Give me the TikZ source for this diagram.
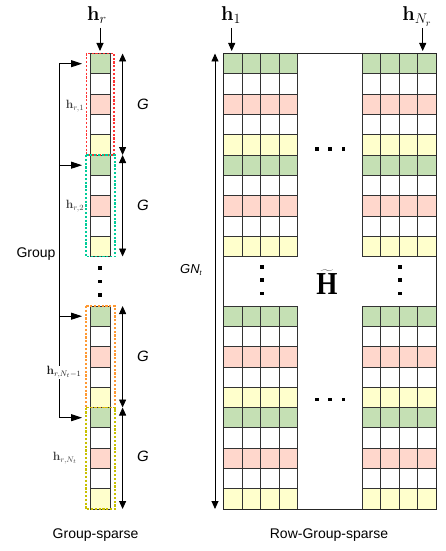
\RequirePackage{fix-cm}
\documentclass[tikz,border=0pt]{standalone}
\usepackage[no-math]{fontspec}
\setmainfont{Liberation Sans}
\newfontfamily\serifb{Liberation Serif}
\usetikzlibrary{arrows.meta}
\definecolor{cg}{HTML}{C5E0B4}
\definecolor{cp}{HTML}{FFD7CC}
\definecolor{cy}{HTML}{FFFFCC}
\definecolor{dred}{HTML}{FF3333}
\definecolor{dteal}{HTML}{00CC99}
\definecolor{dorange}{HTML}{FF9933}
\definecolor{dolive}{HTML}{C8C000}
\newcommand\mydot[2]{\fill ({#1-1.8},{#2-1.8}) rectangle ++(3.6,3.6);}
\begin{document}
\begin{tikzpicture}[x=1pt,y=-1pt,
 cell/.style={draw=black!80,line width=0.8pt},
 arr/.style={-{Triangle[length=8pt,width=7pt]},line width=0.9pt},
 darr/.style={{Triangle[length=8pt,width=7pt]}-{Triangle[length=8pt,width=7pt]},line width=0.9pt},
 harr/.style={-{Triangle[length=11pt,width=7pt]},line width=0.9pt},
 grpbox/.style={dash pattern=on 2.2pt off 1.6pt,line width=1.1pt},
 lab/.style={font=\fontsize{14}{16}\selectfont},
 glab/.style={font=\fontsize{15}{17}\selectfont\itshape},
 slab/.style={text=black!75,inner sep=1pt,font=\fontsize{12}{14}\selectfont},
 big/.style={anchor=base,inner sep=0pt,font=\fontsize{20}{24}\selectfont}]
\useasboundingbox (0,0) rectangle (445,551);

% cells
\foreach \t in {53.5,155,306,407.5}{
 \foreach \i/\c in {0/cg,1/white,2/cp,3/white,4/cy}{
  \filldraw[cell,fill=\c] (90,{\t+\i*20.3}) rectangle ++(20,20.3);
  \foreach \x in {223.5,242,260.5,279,362,380.5,399,417.5}{
    \filldraw[cell,fill=\c] (\x,{\t+\i*20.3}) rectangle ++(18.5,20.3);
  }}}
\draw[line width=1pt,black!85] (223.5,53.5) rectangle (436,509);

% group boxes
\draw[grpbox,dred] (86.5,53.5) rectangle (114,155);
\draw[grpbox,dteal] (86,155) rectangle (115,256.5);
\draw[grpbox,dorange] (86,306) rectangle (115,407.5);
\draw[grpbox,dolive] (86,407.5) rectangle (115,509);

% dots
\mydot{100}{268}\mydot{100}{281.5}\mydot{100}{295}
\mydot{261.7}{267}\mydot{261.7}{280}\mydot{261.7}{293.3}
\mydot{400}{267}\mydot{400}{280}\mydot{400}{293.3}
\mydot{316.7}{149}\mydot{330}{149}\mydot{343.3}{149}
\mydot{316.7}{399.3}\mydot{330}{399.3}\mydot{343.3}{399.3}

% top labels
\node[big] (hr) at (97,21) {$\mathbf{h}_r$};
\node[big] (h1) at (231,21) {$\mathbf{h}_1$};
\node[big] (hN) at (417,21) {$\mathbf{h}_{N_r}$};
\coordinate (hra) at (100,28); \coordinate (hrb) at (100,51);
\coordinate (h1a) at (231.7,28); \coordinate (h1b) at (231.7,51);
\coordinate (hNa) at (422.7,28); \coordinate (hNb) at (422.7,51);
\draw[arr] (hra) -- (hrb);
\draw[arr] (h1a) -- (h1b);
\draw[arr] (hNa) -- (hNb);

% G arrows
\coordinate (g0) at (122.6,53.5);
\coordinate (g1) at (122.6,155);
\coordinate (g2) at (122.6,256.5);
\coordinate (g3) at (122.6,306);
\coordinate (g4) at (122.6,407.5);
\coordinate (g5) at (122.6,509);
\draw[darr] (g0) -- (g1);
\draw[darr] (g1) -- (g2);
\draw[darr] (g3) -- (g4);
\draw[darr] (g4) -- (g5);
\node[glab] (G1) at (143,104) {G};
\node[glab] (G2) at (143,205) {G};
\node[glab] (G3) at (143,356) {G};
\node[glab] (G4) at (143,456) {G};

% bracket
\coordinate (b1) at (59.3,63.7); \coordinate (e1) at (82,63.7);
\coordinate (b2) at (59.3,165.2); \coordinate (e2) at (82,165.2);
\coordinate (b3) at (59.3,316.2); \coordinate (e3) at (82,316.2);
\coordinate (b4) at (59.3,417.7); \coordinate (e4) at (82,417.7);
\draw[line width=0.9pt] (b1) -- (b4);
\draw[harr] (b1) -- (e1);
\draw[harr] (b2) -- (e2);
\draw[harr] (b3) -- (e3);
\draw[harr] (b4) -- (e4);
\node[lab,fill=white,inner sep=1pt] (grp) at (36,254) {Group};

% small labels
\node[slab] (l1) at (75,106) {$\mathbf{h}_{r,1}$};
\node[slab] (l2) at (75,206) {$\mathbf{h}_{r,2}$};
\node[slab,fill=white,text=black!90] (l3) at (64,372.5) {$\mathbf{h}_{r,N_t-1}$};
\node[slab] (l4) at (65,458.5) {$\mathbf{h}_{r,N_t}$};

% matrix
\coordinate (ma) at (215,53.5); \coordinate (mb) at (215,509);
\draw[darr] (ma) -- (mb);
\node[font=\fontsize{13}{15}\selectfont] (gnt) at (191,270) {\textit{GN}\raisebox{-2.5pt}{\fontsize{7}{8}\selectfont\textit{t}}};
\node[inner sep=0pt] (H) at (327,282) {\scalebox{0.85}[1]{\fontsize{32}{38}\selectfont$\widetilde{\mbox{\serifb\bfseries H}}$}};

% captions
\node[lab] (c1) at (95.5,535) {Group-sparse};
\node[lab] (c2) at (329,535) {Row-Group-sparse};
\end{tikzpicture}
\end{document}
